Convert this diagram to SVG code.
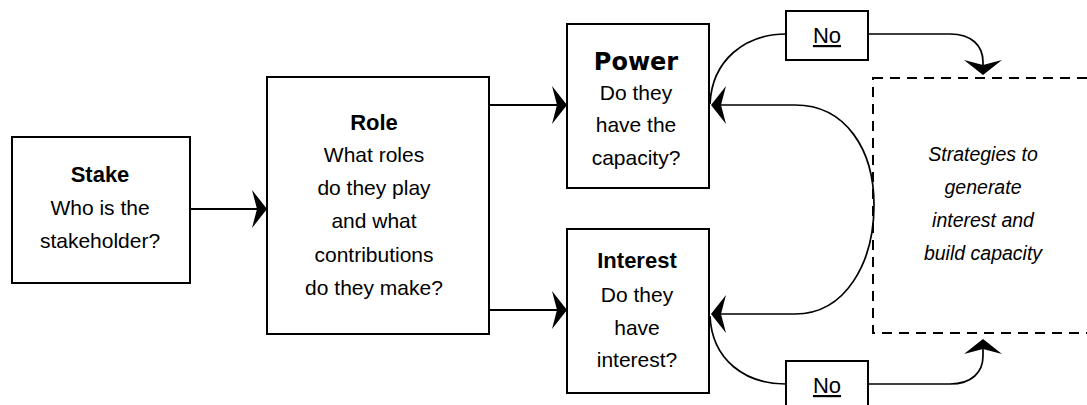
<svg xmlns="http://www.w3.org/2000/svg" width="1087" height="405" viewBox="0 0 1087 405">
<style>
.box{fill:#fff;stroke:#000;stroke-width:2}
.dash{fill:none;stroke:#000;stroke-width:2;stroke-dasharray:10 7}
.t{font-family:"Liberation Sans",Arial,sans-serif;font-size:21px;fill:#000;text-anchor:middle}
.b{font-weight:bold;font-size:22px}
.pw{font-family:"DejaVu Sans",sans-serif;font-weight:bold;font-size:24px}
.i{font-style:italic;font-size:19.5px}
.no{font-size:22px;text-decoration:underline}
.c{fill:none;stroke:#000;stroke-width:2}
.cv{fill:none;stroke:#000;stroke-width:1.7}
</style>
<defs>
<marker id="ah" viewBox="-18 -21 20 42" refX="-3" refY="0" markerWidth="20" markerHeight="42" markerUnits="userSpaceOnUse" orient="auto-start-reverse">
<path d="M0,0 L-15,-19 L-10,0 L-15,19 Z" fill="#000"/>
</marker>
</defs>
<g id="connectors">
<path class="c" d="M190,209 H264" marker-end="url(#ah)"/>
<path class="c" d="M489,105 H564" marker-end="url(#ah)"/>
<path class="c" d="M489,310 H564" marker-end="url(#ah)"/>
<path class="cv" d="M714,105 H795 C846,105 874,150 874,205 C874,262 846,314 795,314 H714" marker-start="url(#ah)" marker-end="url(#ah)"/>
<path class="cv" d="M710,104 C712,60 745,34 786,34"/>
<path class="cv" d="M710,316 C712,360 745,384 786,384"/>
<path class="cv" d="M868,34 H950 C972,34 983,46 983,62 V72" marker-end="url(#ah)"/>
<path class="cv" d="M868,384 H950 C972,384 983,372 983,356 V342" marker-end="url(#ah)"/>
</g>
<g id="stake">
<rect class="box" x="12" y="137" width="178" height="146"/>
<text class="t b" x="100" y="182">Stake</text>
<text class="t" x="100" y="215">Who is the</text>
<text class="t" x="100" y="248">stakeholder?</text>
</g>
<g id="role">
<rect class="box" x="267" y="77" width="222" height="257"/>
<text class="t b" x="374" y="130">Role</text>
<text class="t" x="374" y="162">What roles</text>
<text class="t" x="374" y="195">do they play</text>
<text class="t" x="374" y="228">and what</text>
<text class="t" x="374" y="262">contributions</text>
<text class="t" x="374" y="295">do they make?</text>
</g>
<g id="power">
<rect class="box" x="567" y="24" width="142" height="164"/>
<text class="t pw" x="636" y="70">Power</text>
<text class="t" x="636" y="100">Do they</text>
<text class="t" x="636" y="132">have the</text>
<text class="t" x="636" y="165">capacity?</text>
</g>
<g id="interest">
<rect class="box" x="567" y="229" width="142" height="164"/>
<text class="t b" x="637" y="268">Interest</text>
<text class="t" x="637" y="302">Do they</text>
<text class="t" x="637" y="335">have</text>
<text class="t" x="637" y="367">interest?</text>
</g>
<g id="no-top">
<rect class="box" x="786" y="11" width="82" height="49"/>
<text class="t no" x="827" y="43">No</text>
</g>
<g id="no-bottom">
<rect class="box" x="786" y="361" width="82" height="50"/>
<text class="t no" x="827" y="393">No</text>
</g>
<g id="strategies">
<rect class="dash" x="873" y="78" width="222" height="255"/>
<text class="t i" x="983" y="161">Strategies to</text>
<text class="t i" x="983" y="194">generate</text>
<text class="t i" x="983" y="227">interest and</text>
<text class="t i" x="983" y="260">build capacity</text>
</g>
</svg>
